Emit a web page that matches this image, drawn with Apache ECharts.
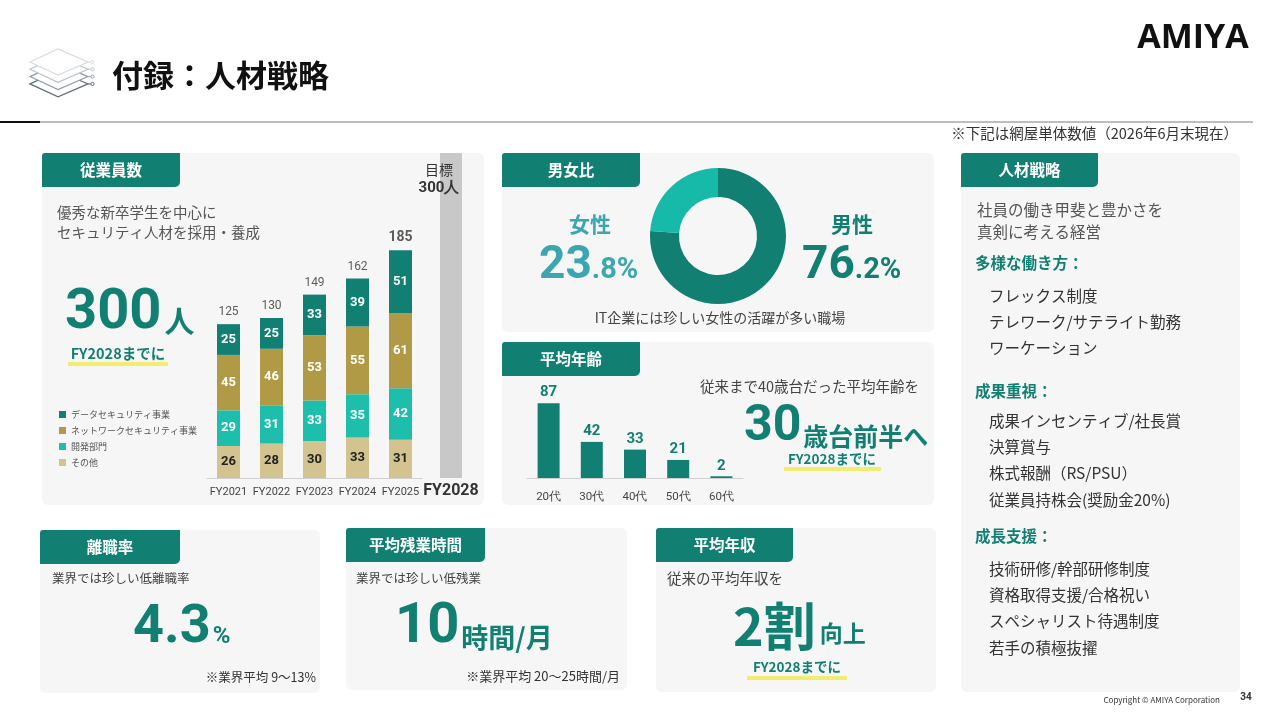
<!DOCTYPE html>
<html><head><meta charset="utf-8">
<script src="https://cdn.jsdelivr.net/npm/echarts@6/dist/echarts.min.js"></script>
<style>html,body{margin:0;padding:0;background:#fff}#c{width:1280px;height:720px}</style>
</head><body><div id="c"></div>
<script>
// ---- data ----
const years = ['FY2021','FY2022','FY2023','FY2024','FY2025'];
const dataSecurity = [25,25,33,39,51];
const networkSecurity = [45,46,53,55,61];
const devDept = [29,31,33,35,42];
const others = [26,28,30,33,31];
const totals = [125,130,149,162,185];
const targetYear = ['FY2028'];
const targetValue = [300];
const genderNames = ['男性','女性'];
const genderValues = [76.2,23.8];
const ageGroups = ['20代','30代','40代','50代','60代'];
const ageCounts = [87,42,33,21,2];
const seriesNames = ['データセキュリティ事業','ネットワークセキュリティ事業','開発部門','その他'];

const TEAL = '#127f73', FEM = '#3aa7b0', JP = '"Noto Sans CJK JP"', NUM = 'Roboto';
const chart = echarts.init(document.getElementById('c'));

function txt(x,y,text,font,fill,align,extra){
  return Object.assign({type:'text',x:x,y:y,z:20,style:{text:text,font:font,fill:fill||'#444',
    align:align||'left',textAlign:align||'left',verticalAlign:'middle',textVerticalAlign:'middle'}},extra||{});
}
function rich(x,y,text,richObj,align){
  return {type:'text',x:x,y:y,z:20,style:{text:text,rich:richObj,align:align||'left',textAlign:align||'left',
    verticalAlign:'middle',textVerticalAlign:'middle'}};
}
const g = [];
// header
g.push(txt(112,75,'付録：人材戦略','bold 31px '+JP,'#111'));
g.push(txt(1193,38,'AMIYA','bold 34px "Open Sans"','#111','center'));
g.push({type:'rect',shape:{x:40,y:121,width:1213,height:2},style:{fill:'#bdbdbd'}});
g.push({type:'rect',shape:{x:0,y:121,width:40,height:2},style:{fill:'#111'}});
// stack icon
const icCols = ['#d6dce0','#b9c2c9','#8f9ca6','#5f6f7c'];
for(let i=3;i>=0;i--){
  const d=i*7.3;
  g.push({type:'polygon',shape:{points:[[30,62+d],[58,49+d],[88,62+d],[58,75+d]]},
    style:{fill:'#fff',stroke:icCols[i],lineWidth:1.2}});
  g.push({type:'line',shape:{x1:88,y1:62+d,x2:91,y2:62+d},style:{stroke:icCols[i],lineWidth:1}});
  g.push({type:'circle',shape:{cx:92.5,cy:62+d,r:1.6},style:{fill:'#fff',stroke:icCols[i],lineWidth:1}});
}
g.push(txt(1238,133,'※下記は網屋単体数値（2026年6月末現在）','14.5px '+JP,'#333','right'));
// panels
const panels = [
  [42,153,442,352,'従業員数',138],[502,153,432,179,'男女比',138],[502,342,432,163,'平均年齢',138],
  [961,153,279,539,'人材戦略',137],[40,530,280,163,'離職率',140],[346,528,281,162,'平均残業時間',139],
  [656,528,280,164,'平均年収',137]];
panels.forEach(p=>{
  g.push({type:'rect',z:1,shape:{x:p[0],y:p[1],width:p[2],height:p[3],r:6},style:{fill:'#f6f6f6'}});
  g.push({type:'rect',z:2,shape:{x:p[0],y:p[1],width:p[5],height:34,r:[3,0,5,0]},style:{fill:TEAL}});
  g.push(txt(p[0]+p[5]/2,p[1]+17,p[4],'bold 15.5px '+JP,'#fff','center'));
});
// panel 1 texts
g.push(txt(57,212,'優秀な新卒学生を中心に','14.5px '+JP,'#555'));
g.push(txt(57,232,'セキュリティ人材を採用・養成','14.5px '+JP,'#555'));
g.push(rich(65,312,'{a|300}{b|人}',{a:{font:'bold 56px '+NUM,fill:TEAL,verticalAlign:'bottom',lineHeight:60},
  b:{font:'bold 30px '+JP,fill:TEAL,verticalAlign:'bottom',lineHeight:60,padding:[0,0,6,3]}}));
g.push({type:'rect',z:3,shape:{x:68,y:362,width:100,height:4},style:{fill:'#f4ec6e'}});
g.push(txt(118,353,'FY2028までに','bold 14.5px '+JP,TEAL,'center',{z:21}));
// panel 2 texts
g.push(txt(590,224,'女性','bold 21px '+JP,FEM,'center'));
g.push(txt(852,224,'男性','bold 21px '+JP,TEAL,'center'));
g.push(rich(539,264,'{a|23}{b|.8%}',{a:{font:'bold 46px '+NUM,fill:FEM,verticalAlign:'bottom',lineHeight:50},
  b:{font:'bold 29px '+NUM,fill:FEM,verticalAlign:'bottom',lineHeight:50,padding:[0,0,4,0]}}));
g.push(rich(802,264,'{a|76}{b|.2%}',{a:{font:'bold 46px '+NUM,fill:TEAL,verticalAlign:'bottom',lineHeight:50},
  b:{font:'bold 29px '+NUM,fill:TEAL,verticalAlign:'bottom',lineHeight:50,padding:[0,0,4,0]}}));
g.push(txt(720,318,'IT企業には珍しい女性の活躍が多い職場','14px '+JP,'#444','center'));
// panel 3 texts
g.push(txt(919,386,'従来まで40歳台だった平均年齢を','14.5px '+JP,'#444','right'));
g.push(rich(744,426,'{a|30}{b|歳台前半へ}',{a:{font:'bold 50px '+NUM,fill:TEAL,verticalAlign:'bottom',lineHeight:52},
  b:{font:'bold 25px '+JP,fill:TEAL,verticalAlign:'bottom',lineHeight:52,padding:[0,0,3,2]}}));
g.push({type:'rect',z:3,shape:{x:784,y:467,width:97,height:4},style:{fill:'#f4ec6e'}});
g.push(txt(832,459,'FY2028までに','bold 13.5px '+JP,TEAL,'center',{z:21}));
// panel 4 texts
g.push(txt(977,210,'社員の働き甲斐と豊かさを','15.5px '+JP,'#555'));
g.push(txt(977,232,'真剣に考える経営','15.5px '+JP,'#555'));
const sections = [
  ['多様な働き方：',263,[['フレックス制度',296],['テレワーク/サテライト勤務',322],['ワーケーション',348]]],
  ['成果重視：',391,[['成果インセンティブ/社長賞',421],['決算賞与',447],['株式報酬（RS/PSU）',473],['従業員持株会(奨励金20%)',500]]],
  ['成長支援：',536,[['技術研修/幹部研修制度',569],['資格取得支援/合格祝い',595],['スペシャリスト待遇制度',621],['若手の積極抜擢',648]]]];
sections.forEach(s=>{
  g.push(txt(975,s[1],s[0],'bold 15.5px '+JP,TEAL));
  s[2].forEach(it=>g.push(txt(989,it[1],it[0],'15.5px '+JP,'#333')));
});
// panel 5
g.push(txt(52,578,'業界では珍しい低離職率','12.5px '+JP,'#444'));
g.push(rich(133,626,'{a|4.3}{b|%}',{a:{font:'bold 54px '+NUM,fill:TEAL,verticalAlign:'bottom',lineHeight:58},
  b:{font:'bold 24px '+NUM,fill:TEAL,verticalAlign:'bottom',lineHeight:58,padding:[0,0,6,2]}}));
g.push(txt(316,677,'※業界平均 9〜13%','12.5px '+JP,'#333','right'));
// panel 6
g.push(txt(356,578,'業界では珍しい低残業','12.5px '+JP,'#444'));
g.push(rich(395,626,'{a|10}{b|時間/月}',{a:{font:'bold 56px '+NUM,fill:TEAL,verticalAlign:'bottom',lineHeight:60},
  b:{font:'bold 27px '+JP,fill:TEAL,verticalAlign:'bottom',lineHeight:60,padding:[0,0,5,2]}}));
g.push(txt(620,676,'※業界平均 20〜25時間/月','13px '+JP,'#333','right'));
// panel 7
g.push(txt(667,578,'従来の平均年収を','14.5px '+JP,'#444'));
g.push(rich(733,622,'{a|2割}{b|向上}',{a:{font:'bold 52px '+JP,fill:TEAL,verticalAlign:'bottom',lineHeight:60},
  b:{font:'bold 23px '+JP,fill:TEAL,verticalAlign:'bottom',lineHeight:60,padding:[0,0,7,4]}}));
g.push({type:'rect',z:3,shape:{x:747,y:676,width:100,height:4},style:{fill:'#f4ec6e'}});
g.push(txt(797,667,'FY2028までに','bold 13.5px '+JP,TEAL,'center',{z:21}));
// footer
g.push(txt(1220,700,'Copyright © AMIYA Corporation','8px '+JP,'#333','right'));
g.push(txt(1246,697,'34','bold 10px '+NUM,'#333','center'));

const segColors = ['#127f73','#b09a45','#1dbfac','#d3c48f'];
const segData = [dataSecurity,networkSecurity,devDept,others];
const segLabelColor = ['#fff','#fff','#fff','#222'];
const stackSeries = [3,2,1,0].map(i=>({
  name:seriesNames[i],type:'bar',stack:'emp',xAxisIndex:0,yAxisIndex:0,barWidth:23,
  data:segData[i],itemStyle:{color:segColors[i]},
  label:{show:true,position:'inside',color:segLabelColor[i],fontFamily:NUM,fontWeight:'bold',fontSize:13},
  z:5
}));

chart.setOption({
  animation:false,
  textStyle:{fontFamily:JP},
  graphic:{elements:g},
  legend:{orient:'vertical',left:54,top:405,itemWidth:7,itemHeight:7,itemGap:7,icon:'rect',z:10,
    data:seriesNames,textStyle:{fontSize:9,color:'#555',fontFamily:JP},selectedMode:false},
  grid:[
    {left:207,top:158,width:215,height:320},
    {left:430,top:153,width:42,height:325},
    {left:527,top:392,width:216,height:86}
  ],
  xAxis:[
    {type:'category',gridIndex:0,data:years,z:10,axisTick:{show:false},axisLine:{lineStyle:{color:'#d0d0d0'}},
      axisLabel:{color:'#444',fontSize:11,fontFamily:NUM,margin:9,interval:0,hideOverlap:false}},
    {type:'category',gridIndex:1,data:targetYear,z:10,axisTick:{show:false},axisLine:{show:false},
      axisLabel:{color:'#333',fontSize:16,fontWeight:'bold',fontFamily:NUM,margin:5,interval:0}},
    {type:'category',gridIndex:2,data:ageGroups,z:10,axisTick:{show:false},axisLine:{lineStyle:{color:'#d0d0d0'}},
      axisLabel:{color:'#444',fontSize:11.5,fontFamily:NUM,margin:13,interval:0}}
  ],
  yAxis:[
    {type:'value',gridIndex:0,min:0,max:260,show:false,splitLine:{show:false}},
    {type:'value',gridIndex:1,min:0,max:300,show:false,splitLine:{show:false}},
    {type:'value',gridIndex:2,min:0,max:100,show:false,splitLine:{show:false}}
  ],
  series:[
    ...stackSeries,
    {name:'total',type:'scatter',xAxisIndex:0,yAxisIndex:0,symbolSize:0,silent:true,z:6,
      data:totals.map((v,i)=>i===totals.length-1?{value:v,label:{fontSize:14,fontWeight:'bold',color:'#333'}}:v),
      label:{show:true,position:'top',distance:6,color:'#333',fontSize:12,fontFamily:NUM}},
    {name:'target',type:'bar',xAxisIndex:1,yAxisIndex:1,barWidth:22,data:targetValue,
      itemStyle:{color:'#c8c8c8'},z:2,
      label:{show:true,position:'insideTop',offset:[-12,0],distance:8,formatter:p=>'{a|目標}\n{b|'+p.value+'人}',
        rich:{a:{fontSize:14,color:'#333',fontFamily:JP,lineHeight:18,align:'center'},
              b:{fontSize:15,color:'#333',fontWeight:'bold',fontFamily:NUM,lineHeight:18,align:'center'}}}},
    {name:'age',type:'bar',xAxisIndex:2,yAxisIndex:2,barWidth:22,data:ageCounts,itemStyle:{color:TEAL},z:5,
      label:{show:true,position:'top',distance:3,color:TEAL,fontSize:15,fontWeight:'bold',fontFamily:NUM}},
    {name:'gender',type:'pie',center:[718,236],radius:[39,68],startAngle:90,clockwise:true,silent:true,z:5,
      label:{show:false},labelLine:{show:false},
      data:genderNames.map((n,i)=>({name:n,value:genderValues[i]})),
      color:['#117f72','#17b9a9']}
  ]
});
</script></body></html>
